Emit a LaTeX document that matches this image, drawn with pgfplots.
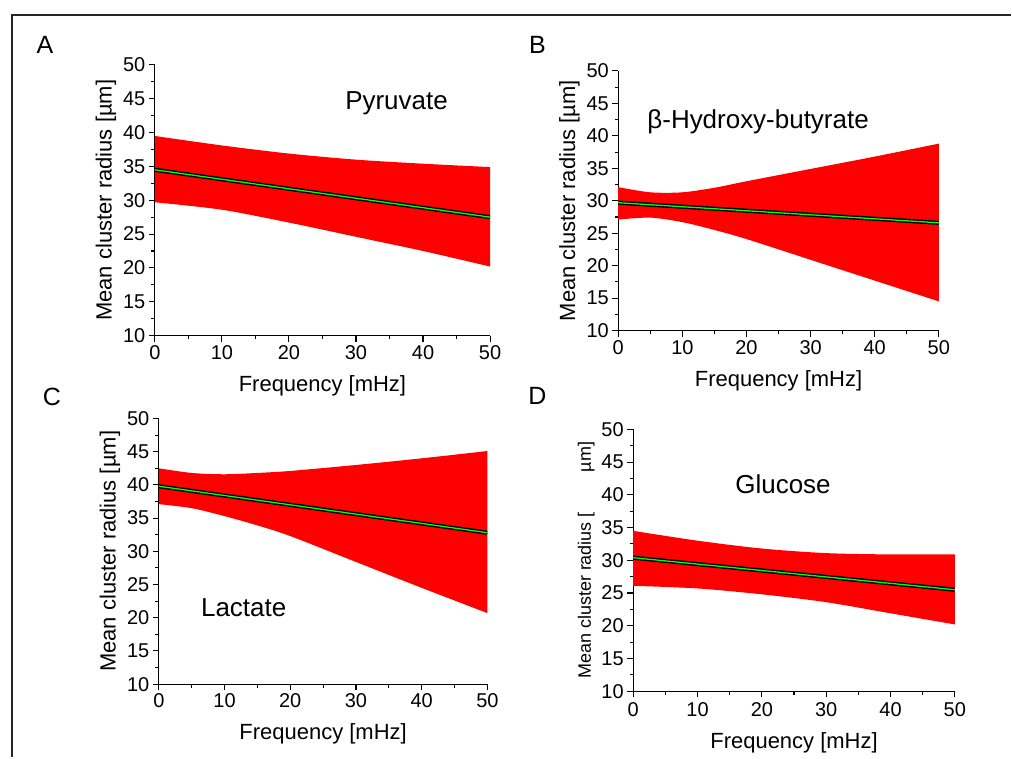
\documentclass[border=0pt]{standalone}
\usepackage{fontspec}
\setmainfont{Liberation Sans}
\usepackage{pgfplots}
\pgfplotsset{compat=1.18}
\usepgfplotslibrary{fillbetween}

\pgfplotsset{
  panel/.style={
    scale only axis,
    anchor=south west,
    xmin=0, xmax=50, ymin=10, ymax=50,
    axis x line*=bottom, axis y line*=left,
    axis line style={-, line width=1.2pt},
    xtick={0,10,...,50}, ytick={10,15,...,50},
    minor x tick num=1, minor y tick num=1,
    tick align=outside,
    major tick length=6pt, minor tick length=3.5pt,
    every tick/.style={black, line width=1.1pt},
    tick label style={font=\fontsize{20}{24}\selectfont},
    label style={font=\fontsize{22}{26}\selectfont},
    xlabel style={yshift=-9pt},
    /pgf/number format/assume math mode=true,
    xlabel={Frequency [mHz]},
    ylabel={Mean cluster radius [µm]},
  },
  band/.style={fill=red, draw=none},
  fitblack/.style={black, line width=4.2pt},
  fitgreen/.style={green, line width=1.3pt},
}

\begin{document}
\begin{tikzpicture}[x=1pt,y=1pt]
\path (0,0) rectangle (1012,758);
\draw[line width=2.5pt, black!85] (11,743) -- (1012,743);
\draw[line width=2.5pt, black!85] (12,743) -- (12,0);

% A: Pyruvate
\begin{axis}[panel, at={(155pt,422pt)}, width=335.7pt, height=271pt]
\addplot[name path=upA, draw=none, smooth] coordinates {(0,39.5) (10,38.1) (20,36.9) (30,36.0) (40,35.4) (50,34.9)};
\addplot[name path=loA, draw=none, smooth] coordinates {(0,29.7) (10,28.6) (20,26.7) (30,24.6) (40,22.5) (50,20.2)};
\addplot[band] fill between[of=upA and loA];
\addplot[fitblack] coordinates {(0,34.5) (50,27.5)};
\addplot[fitgreen] coordinates {(0,34.5) (50,27.5)};
\end{axis}

% B: beta-Hydroxy-butyrate
\begin{axis}[panel, at={(619pt,427pt)}, width=321pt, height=260pt]
\addplot[name path=upB, draw=none, smooth] coordinates {(0,32.1) (5,31.3) (10,31.3) (15,32.0) (20,33.0) (30,34.9) (40,36.8) (50,38.8)};
\addplot[name path=loB, draw=none, smooth] coordinates {(0,27.1) (5,27.4) (10,26.7) (15,25.5) (20,24.1) (30,20.9) (40,17.7) (50,14.5)};
\addplot[band] fill between[of=upB and loB];
\addplot[fitblack] coordinates {(0,29.7) (50,26.6)};
\addplot[fitgreen] coordinates {(0,29.7) (50,26.6)};
\end{axis}

% C: Lactate
\begin{axis}[panel, at={(159pt,73pt)}, width=329pt, height=266pt]
\addplot[name path=upC, draw=none, smooth] coordinates {(0,42.5) (5,41.8) (10,41.6) (15,41.8) (20,42.1) (30,43.0) (40,44.0) (50,45.1)};
\addplot[name path=loC, draw=none, smooth] coordinates {(0,37.1) (5,36.5) (10,35.3) (15,33.9) (20,32.3) (30,28.4) (40,24.5) (50,20.7)};
\addplot[band] fill between[of=upC and loC];
\addplot[fitblack] coordinates {(0,39.8) (50,32.8)};
\addplot[fitgreen] coordinates {(0,39.8) (50,32.8)};
\end{axis}

% D: Glucose
\begin{axis}[panel, at={(634pt,66pt)}, width=322pt, height=262pt,
  ylabel={Mean cluster radius [\hspace{40pt}µm]},
  ylabel style={font=\fontsize{18}{22}\selectfont},
  xticklabel style={yshift=-2pt}]
\addplot[name path=upD, draw=none, smooth] coordinates {(0,34.5) (10,33.0) (20,31.8) (30,31.1) (40,30.9) (50,30.9)};
\addplot[name path=loD, draw=none, smooth] coordinates {(0,26.1) (10,25.7) (20,24.8) (30,23.6) (40,21.9) (50,20.2)};
\addplot[band] fill between[of=upD and loD];
\addplot[fitblack] coordinates {(0,30.4) (50,25.5)};
\addplot[fitgreen] coordinates {(0,30.4) (50,25.5)};
\end{axis}

\begin{scope}[every node/.style={font=\fontsize{25}{30}\selectfont}]
\node at (45,713) {A};
\node at (538,713) {B};
\node at (52,361) {C};
\node at (538,362) {D};
\end{scope}
\begin{scope}[every node/.style={font=\fontsize{26}{30}\selectfont}]
\node at (397,655) {Pyruvate};
\node at (759,636) {β-Hydroxy-butyrate};
\node at (244,150) {Lactate};
\node at (784,273) {Glucose};
\end{scope}
\end{tikzpicture}
\end{document}
